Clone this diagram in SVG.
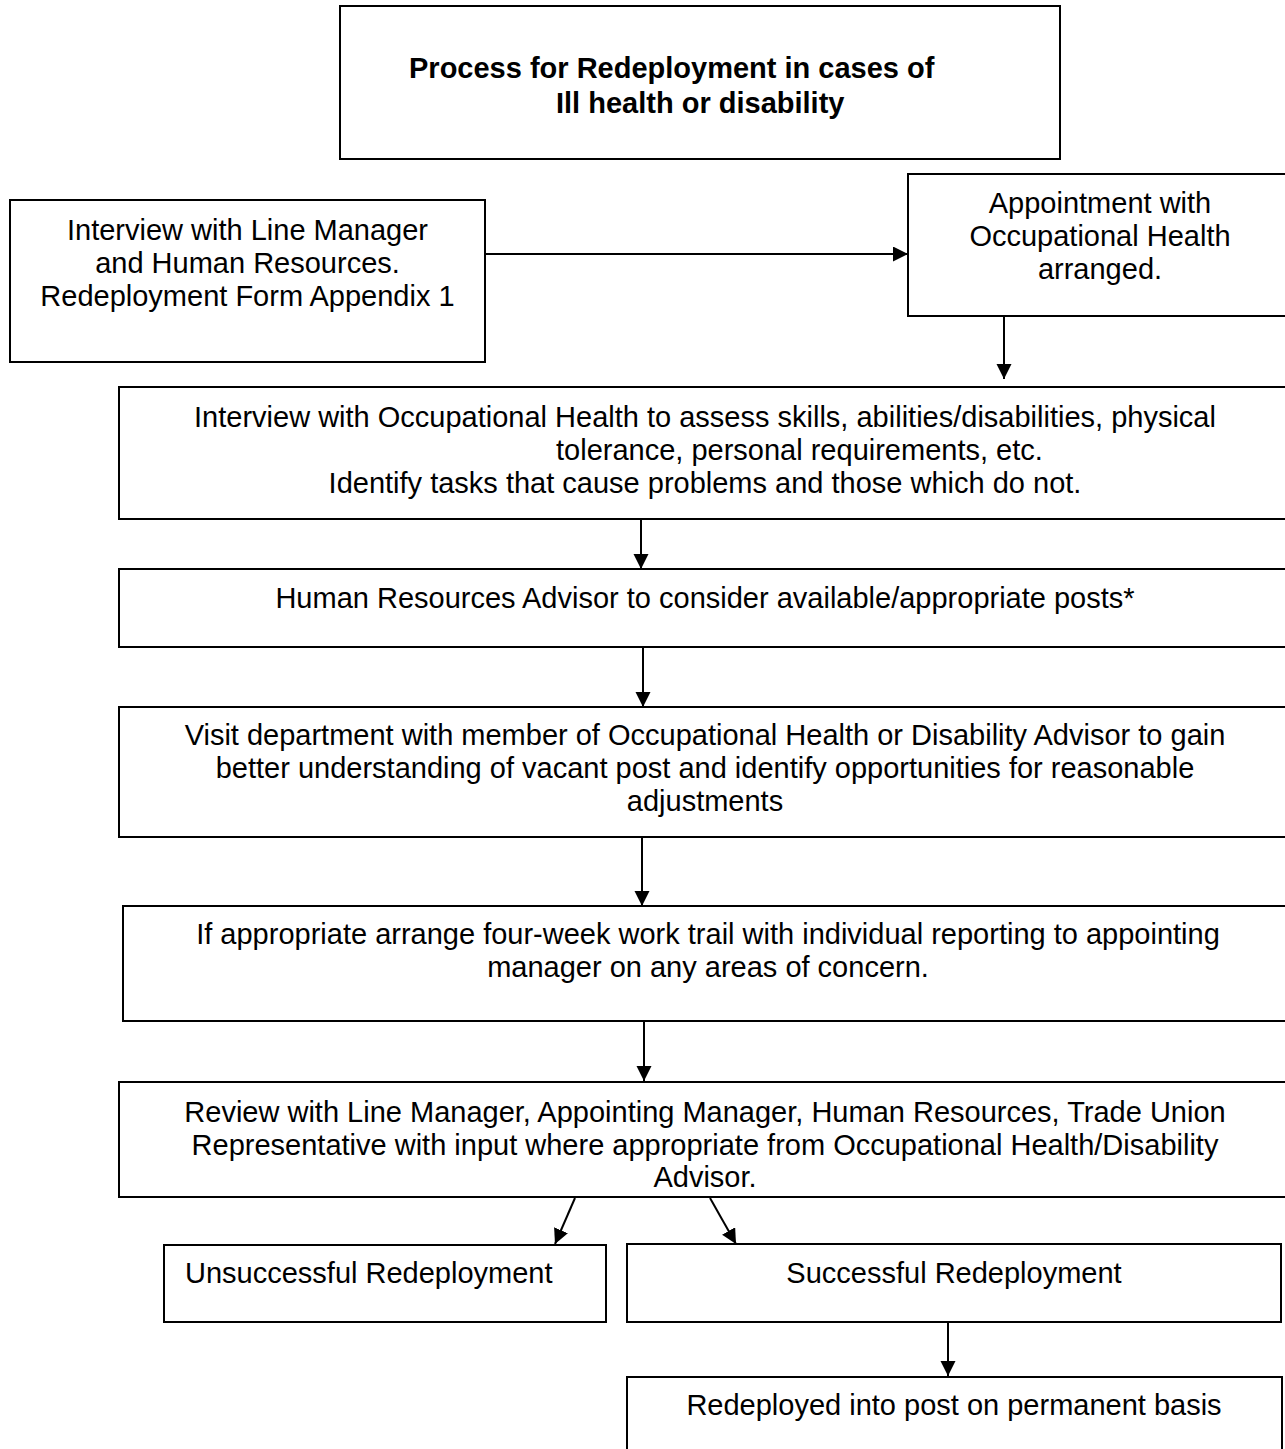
<svg xmlns="http://www.w3.org/2000/svg" width="1285" height="1449" viewBox="0 0 1285 1449">
<style>
  .box { fill: #ffffff; stroke: #000000; stroke-width: 2; }
  .t { font-family: "Liberation Sans", Arial, sans-serif; font-size: 29px; fill: #000000; }
  .c { text-anchor: middle; }
  .b { font-weight: bold; }
  .conn { stroke: #000000; stroke-width: 2; fill: none; }
</style>
<defs>
  <marker id="ah" markerUnits="userSpaceOnUse" markerWidth="17" markerHeight="17" refX="15" refY="7.5" orient="auto">
    <path d="M0,0 L15,7.5 L0,15 Z" fill="#000000"/>
  </marker>
</defs>
<rect x="0" y="0" width="1285" height="1449" fill="#ffffff"/>

<g id="title">
  <rect class="box" x="340" y="6" width="720" height="153"/>
  <text class="t b" x="409" y="78">Process for Redeployment in cases of</text>
  <text class="t b" x="556" y="113">Ill health or disability</text>
</g>

<g id="interview-line-manager">
  <rect class="box" x="10" y="200" width="475" height="162"/>
  <text class="t c" x="247.5" y="240">Interview with Line Manager</text>
  <text class="t c" x="247.5" y="273">and Human Resources.</text>
  <text class="t c" x="247.5" y="306">Redeployment Form Appendix 1</text>
</g>

<g id="appointment-oh">
  <rect class="box" x="908" y="174" width="384" height="142"/>
  <text class="t c" x="1100" y="213">Appointment with</text>
  <text class="t c" x="1100" y="246">Occupational Health</text>
  <text class="t c" x="1100" y="279">arranged.</text>
</g>

<g id="interview-oh">
  <rect class="box" x="119" y="387" width="1172" height="132"/>
  <text class="t c" x="705" y="427">Interview with Occupational Health to assess skills, abilities/disabilities, physical</text>
  <text class="t" x="556" y="460">tolerance, personal requirements, etc.</text>
  <text class="t c" x="705" y="493">Identify tasks that cause problems and those which do not.</text>
</g>

<g id="hr-advisor">
  <rect class="box" x="119" y="569" width="1172" height="78"/>
  <text class="t c" x="705" y="608">Human Resources Advisor to consider available/appropriate posts*</text>
</g>

<g id="visit-department">
  <rect class="box" x="119" y="707" width="1172" height="130"/>
  <text class="t c" x="705" y="745">Visit department with member of Occupational Health or Disability Advisor to gain</text>
  <text class="t c" x="705" y="778">better understanding of vacant post and identify opportunities for reasonable</text>
  <text class="t c" x="705" y="811">adjustments</text>
</g>

<g id="work-trial">
  <rect class="box" x="123" y="906" width="1170" height="115"/>
  <text class="t c" x="708" y="944">If appropriate arrange four-week work trail with individual reporting to appointing</text>
  <text class="t c" x="708" y="977">manager on any areas of concern.</text>
</g>

<g id="review">
  <rect class="box" x="119" y="1082" width="1172" height="115"/>
  <text class="t c" x="705" y="1122">Review with Line Manager, Appointing Manager, Human Resources, Trade Union</text>
  <text class="t c" x="705" y="1155">Representative with input where appropriate from Occupational Health/Disability</text>
  <text class="t c" x="705" y="1187">Advisor.</text>
</g>

<g id="unsuccessful">
  <rect class="box" x="164" y="1245" width="442" height="77"/>
  <text class="t" x="185" y="1283">Unsuccessful Redeployment</text>
</g>

<g id="successful">
  <rect class="box" x="627" y="1244" width="654" height="78"/>
  <text class="t c" x="954" y="1283">Successful Redeployment</text>
</g>

<g id="redeployed-permanent">
  <rect class="box" x="627" y="1377" width="655" height="90"/>
  <text class="t c" x="954" y="1415">Redeployed into post on permanent basis</text>
</g>

<g id="connectors">
  <line class="conn" x1="485" y1="254" x2="908" y2="254" stroke-width="2.5" marker-end="url(#ah)"/>
  <line class="conn" x1="1004" y1="316" x2="1004" y2="379" marker-end="url(#ah)"/>
  <line class="conn" x1="641" y1="519" x2="641" y2="569" marker-end="url(#ah)"/>
  <line class="conn" x1="643" y1="647" x2="643" y2="707" marker-end="url(#ah)"/>
  <line class="conn" x1="642" y1="837" x2="642" y2="906" marker-end="url(#ah)"/>
  <line class="conn" x1="644" y1="1021" x2="644" y2="1081" marker-end="url(#ah)"/>
  <line class="conn" x1="575" y1="1198" x2="555" y2="1244" marker-end="url(#ah)"/>
  <line class="conn" x1="710" y1="1198" x2="736" y2="1244" marker-end="url(#ah)"/>
  <line class="conn" x1="948" y1="1322" x2="948" y2="1376" marker-end="url(#ah)"/>
</g>
</svg>
